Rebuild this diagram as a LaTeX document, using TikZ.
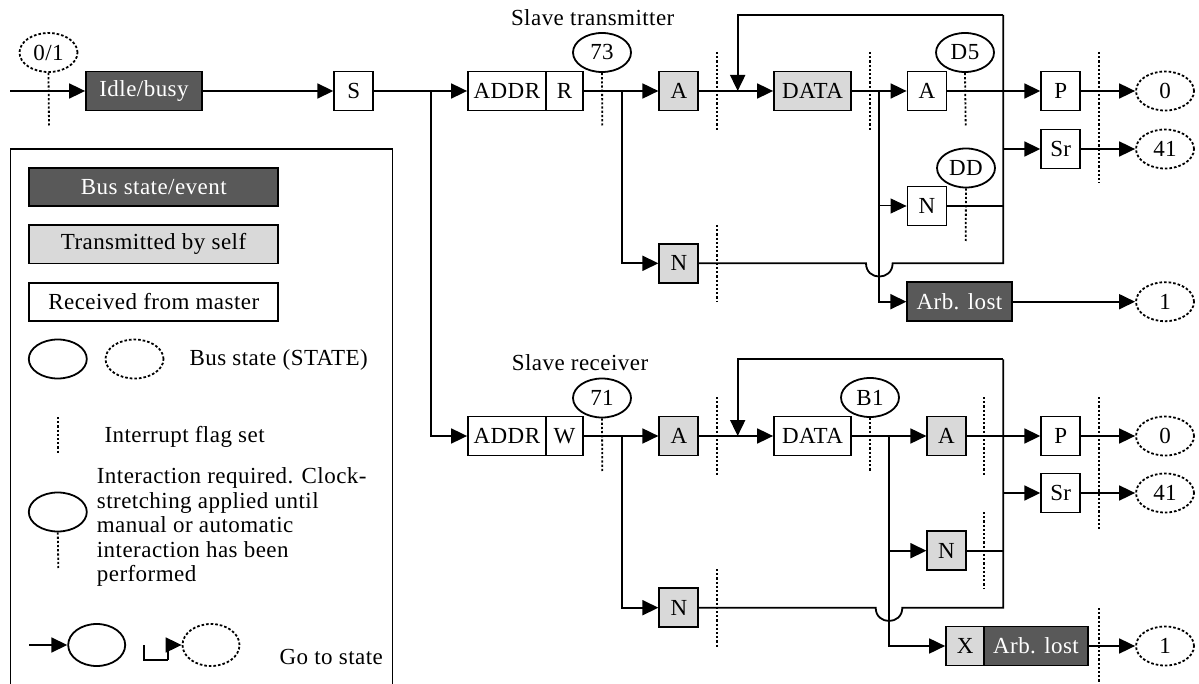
\documentclass[tikz,border=0pt]{standalone}
\usepackage{fontspec}
\setmainfont{Liberation Serif}[LetterSpace=2]
\usetikzlibrary{arrows.meta,shapes.geometric}
\definecolor{darkfill}{RGB}{89,89,89}
\definecolor{lightfill}{RGB}{217,217,217}
\begin{document}
\begin{tikzpicture}[x=1pt,y=-1pt,
  every node/.style={font=\fontsize{23}{24.5}\selectfont},
  box/.style={draw, line width=1.8pt, minimum height=39pt, minimum width=39pt, inner sep=0pt},
  rx/.style={box, fill=white},
  tx/.style={box, fill=lightfill},
  ev/.style={box, fill=darkfill, text=white},
  st/.style={draw, ellipse, line width=1.8pt, minimum width=58pt, minimum height=39pt, inner sep=0pt},
  dst/.style={st, dash pattern=on 2.6pt off 2pt},
  flag/.style={line width=1.8pt, dash pattern=on 2.2pt off 2pt},
  ln/.style={line width=1.8pt},
  arr/.style={line width=1.8pt, -{Triangle[length=16pt,width=15pt]}}]
\useasboundingbox (0,0) rectangle (1199,684);

% ---------------- top row nodes (slave transmitter) ----------------
\node[dst] (e01) at (48.5,52.5) {0/1};
\node[ev, minimum width=116pt] (idle) at (144,91) {Idle/busy};
\node[rx] (S) at (353.7,91) {S};
\node at (592.7,18) (lt) {Slave transmitter};
\node[rx, minimum width=77.7pt] (addr1) at (506.85,91) {ADDR};
\node[rx, minimum width=37.6pt] (R1) at (564.5,91) {R};
\node[st] (e73) at (602,52.5) {73};
\node[tx] (A1) at (678.8,91) {A};
\node[tx, minimum width=77pt] (data1) at (812.5,91) {DATA};
\node[rx] (A2) at (927,91) {A};
\node[st] (eD5) at (965,52.5) {D5};
\node[rx] (P1) at (1060.7,91) {P};
\node[rx] (Sr1) at (1060.7,149) {Sr};
\node[st] (eDD) at (966,168) {DD};
\node[rx] (N2) at (927,206) {N};
\node[tx] (N1) at (678.8,263.3) {N};
\node[ev, minimum width=104.4pt] (arb1) at (959.5,301.7) {Arb. lost};
\node[dst] (e0a) at (1165,91) {0};
\node[dst] (e41a) at (1165,149) {41};
\node[dst] (e1a) at (1165,301.7) {1};

% ---------------- bottom row nodes (slave receiver) ----------------
\node at (580,362.7) (lr) {Slave receiver};
\node[rx, minimum width=77.7pt] (addr2) at (506.85,436) {ADDR};
\node[rx, minimum width=37.6pt] (W2) at (564.5,436) {W};
\node[st] (e71) at (602,398) {71};
\node[tx] (A3) at (678.8,436) {A};
\node[rx, minimum width=77pt] (data2) at (812.5,436) {DATA};
\node[st] (eB1) at (870,397.5) {B1};
\node[tx, minimum width=38.4pt] (A4) at (946.5,436) {A};
\node[rx] (P2) at (1060.7,436) {P};
\node[rx] (Sr2) at (1060.7,493) {Sr};
\node[tx, minimum width=38.4pt] (N4) at (946.5,550.7) {N};
\node[tx] (N3) at (678.8,607.7) {N};
\node[tx, minimum width=38.3pt] (X) at (965.2,646) {X};
\node[ev, minimum width=103.4pt] (arb2) at (1036,646) {Arb. lost};
\node[dst] (e0b) at (1165,436) {0};
\node[dst] (e41b) at (1165,493) {41};
\node[dst] (e1b) at (1165,646) {1};

% ---------------- top row connectors ----------------
\coordinate (in) at (10,91);
\coordinate (j1) at (431,91);
\coordinate (j2) at (621.7,91);
\coordinate (j3) at (879.3,91);
\coordinate (fb1) at (737.7,91);
\coordinate (L1t) at (1003.3,15);
\coordinate (L1b) at (1003.3,263.3);
\coordinate (b1l) at (866,263.3);
\coordinate (b1r) at (892.6,263.3);

\draw[arr] (in) -- (idle);
\draw[arr] (idle) -- (S);
\draw[arr] (S) -- (addr1);
\draw[arr] (j1) |- (addr2);
\draw[arr] (R1) -- (A1);
\draw[arr] (j2) |- (N1);
\draw[arr] (A1) -- (data1);
\draw[arr] (data1) -- (A2);
\draw[arr] (j3) |- (arb1);
\draw[arr, line width=1pt] (j3 |- N2) -- (N2);
\draw[arr] (A2) -- (P1);
\draw[ln] (N2) -- (N2 -| L1b);
\draw[ln] (N1) -- (b1l) .. controls ([yshift=-17.7pt]b1l) and ([yshift=-17.7pt]b1r) .. (b1r) -- (L1b) -- (L1t);
\draw[arr] (L1t) -| (fb1);
\draw[arr] (L1t |- Sr1) -- (Sr1);
\draw[arr] (P1) -- (e0a);
\draw[arr] (Sr1) -- (e41a);
\draw[arr] (arb1) -- (e1a);

\draw[flag] (e01.south) -- (49,127);
\draw[flag] (e73.south) -- (602.3,127);
\draw[flag] (716.7,52) -- (716.7,130);
\draw[flag] (870,52) -- (870,130);
\draw[flag] (eD5.south) -- (965.7,127);
\draw[flag] (1099,52) -- (1099,183);
\draw[flag] (eDD.south) -- (965.7,242);
\draw[flag] (716.7,225) -- (716.7,302);

% ---------------- bottom row connectors ----------------
\coordinate (k2) at (621.7,436);
\coordinate (k3) at (889,436);
\coordinate (fb2) at (737.7,436);
\coordinate (L2t) at (1003.3,359.3);
\coordinate (L2b) at (1003.3,607.7);
\coordinate (b2l) at (875.7,607.7);
\coordinate (b2r) at (902.3,607.7);

\draw[arr] (W2) -- (A3);
\draw[arr] (k2) |- (N3);
\draw[arr] (A3) -- (data2);
\draw[arr] (data2) -- (A4);
\draw[arr] (k3) |- (X);
\draw[arr] (k3 |- N4) -- (N4);
\draw[arr] (A4) -- (P2);
\draw[ln] (N4) -- (N4 -| L2b);
\draw[ln] (N3) -- (b2l) .. controls ([yshift=-17.7pt]b2l) and ([yshift=-17.7pt]b2r) .. (b2r) -- (L2b) -- (L2t);
\draw[arr] (L2t) -| (fb2);
\draw[arr] (L2t |- Sr2) -- (Sr2);
\draw[arr] (P2) -- (e0b);
\draw[arr] (Sr2) -- (e41b);
\draw[arr] (arb2) -- (e1b);

\draw[flag] (e71.south) -- (602.3,472);
\draw[flag] (716.7,397) -- (716.7,475);
\draw[flag] (eB1.south) -- (870,472);
\draw[flag] (984.3,397) -- (984.3,475);
\draw[flag] (1099,397) -- (1099,530);
\draw[flag] (984.3,512) -- (984.3,589);
\draw[flag] (716.7,569) -- (716.7,647);
\draw[flag] (1099,608) -- (1099,690);

% ---------------- legend ----------------
\draw[line width=1.3pt] (10.7,700) -- (10.7,149) -- (392.7,149) -- (392.7,700);
\node[ev, minimum width=249pt, minimum height=38.5pt] (lg1) at (153.8,187) {Bus state/event};
\node[tx, minimum width=249.6pt, minimum height=38.5pt] (lg2) at (153.5,244.2) {Transmitted by self};
\node[rx, minimum width=249pt, minimum height=38.5pt] (lg3) at (153.8,302) {Received from master};
\node[st] (lg4) at (57.8,359) {};
\node[dst] (lg5) at (134.5,359) {};
\node[anchor=west] (lg6) at (186,360) {Bus state (STATE)};
\coordinate (lg7a) at (58.3,417);
\coordinate (lg7b) at (58.3,453);
\draw[flag] (lg7a) -- (lg7b);
\node[anchor=west] (lg8) at (101,437) {Interrupt flag set};
\node[st] (lg9) at (57.8,512) {};
\draw[flag] (lg9.south) -- (58.3,568);
\node[anchor=west, align=left, inner sep=0pt] (lg10) at (96.7,527) {Interaction required. Clock-\\stretching applied until\\manual or automatic\\interaction has been\\performed};
\coordinate (g1) at (29.3,645);
\node[st, minimum width=57pt, minimum height=42pt] (lg11) at (96.7,645) {};
\draw[arr] (g1) -- (lg11);
\node[dst, minimum width=57pt, minimum height=42pt] (lg12) at (211,645) {};
\coordinate (g2) at (144,645);
\coordinate (g3) at (168.3,660);
\draw[ln] (g2) |- (g3);
\draw[arr] (g3) |- (lg12);
\node[anchor=west] (lg13) at (276,657) {Go to state};
\end{tikzpicture}
\end{document}
